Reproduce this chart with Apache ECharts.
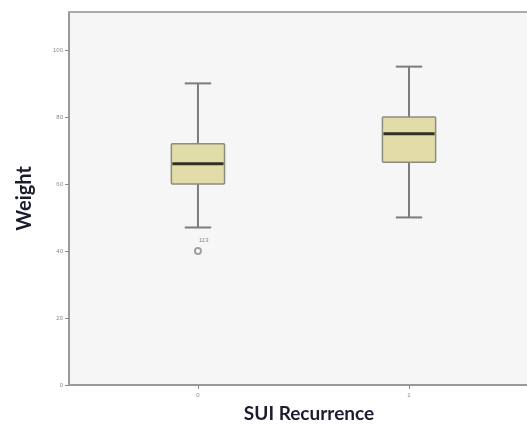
<!DOCTYPE html>
<html>
<head>
<meta charset="utf-8">
<script src="https://cdn.jsdelivr.net/npm/echarts@6/dist/echarts.min.js"></script>
<style>html,body{margin:0;padding:0;background:#fff}#c{width:527px;height:428px}</style>
</head>
<body>
<div id="c"></div>
<script>
const categories = ['0', '1'];
const lowerWhisker = [47, 50];
const q1 = [60, 66.5];
const median = [66, 75];
const q3 = [72, 80];
const upperWhisker = [90, 95];
const outliers = [[0, 40, '113']];
const yTicks = [0, 20, 40, 60, 80, 100];
const xTicks = [0, 1];

const boxData = categories.map((c, i) => [i, lowerWhisker[i], q1[i], median[i], q3[i], upperWhisker[i]]);

const chart = echarts.init(document.getElementById('c'), null, {renderer: 'canvas'});
chart.setOption({
  animation: false,
  backgroundColor: '#ffffff',
  grid: {
    left: 69, right: 0, top: 12, bottom: 43,
    show: true, backgroundColor: '#f6f6f6', borderColor: 'transparent', borderWidth: 0
  },
  xAxis: [{
    type: 'value', min: -0.611, max: 1.559,
    splitLine: {show: false},
    axisLine: {show: true, onZero: false, lineStyle: {color: '#9a9a9a', width: 2}},
    axisTick: {show: true, length: 4, customValues: xTicks, lineStyle: {color: '#8a8a8a'}},
    axisLabel: {customValues: xTicks, fontSize: 6, color: '#8a8a8a', margin: 7,
      formatter: v => categories[Math.round(v)]},
    name: 'SUI Recurrence', nameLocation: 'middle', nameGap: 19,
    nameTextStyle: {fontFamily: 'Lato', fontWeight: 'bold', fontSize: 19, color: '#1c1c30',
      padding: [0, 0, 0, 22]}
  }, {
    type: 'value', position: 'top', min: -0.611, max: 1.559,
    splitLine: {show: false},
    axisLine: {show: true, onZero: false, lineStyle: {color: '#acacac', width: 2}},
    axisTick: {show: false}, axisLabel: {show: false}
  }],
  yAxis: {
    type: 'value', min: 0, max: 111.3,
    splitLine: {show: false},
    axisLine: {show: true, onZero: false, lineStyle: {color: '#9a9a9a', width: 2}},
    axisTick: {show: true, length: 4, customValues: yTicks, lineStyle: {color: '#8a8a8a'}},
    axisLabel: {customValues: yTicks, fontSize: 6, color: '#8a8a8a', margin: 6},
    name: 'Weight', nameLocation: 'middle', nameGap: 34, nameRotate: 90,
    nameTextStyle: {fontFamily: 'Lato', fontWeight: 'bold', fontSize: 20, color: '#1c1c30'}
  },
  series: [
    {
      type: 'custom',
      data: boxData,
      encode: {x: 0, y: [1, 2, 3, 4, 5]},
      renderItem: function (params, api) {
        const x = api.value(0);
        const pLo = api.coord([x, api.value(1)]);
        const pQ1 = api.coord([x, api.value(2)]);
        const pMed = api.coord([x, api.value(3)]);
        const pQ3 = api.coord([x, api.value(4)]);
        const pHi = api.coord([x, api.value(5)]);
        const boxW = api.size([0.252, 0])[0];
        const capW = api.size([0.125, 0])[0];
        const cx = pLo[0];
        const wStyle = {stroke: '#7c7c7c', lineWidth: 2};
        return {
          type: 'group',
          children: [
            {type: 'line', shape: {x1: cx, y1: pLo[1], x2: cx, y2: pHi[1]}, style: wStyle},
            {type: 'line', shape: {x1: cx - capW / 2, y1: pLo[1], x2: cx + capW / 2, y2: pLo[1]}, style: wStyle},
            {type: 'line', shape: {x1: cx - capW / 2, y1: pHi[1], x2: cx + capW / 2, y2: pHi[1]}, style: wStyle},
            {type: 'rect', shape: {x: cx - boxW / 2, y: pQ3[1], width: boxW, height: pQ1[1] - pQ3[1], r: 1},
              style: {fill: '#e2dda8', stroke: '#8c8c80', lineWidth: 1.5}},
            {type: 'line', shape: {x1: cx - boxW / 2 + 1, y1: pMed[1], x2: cx + boxW / 2 - 1, y2: pMed[1]},
              style: {stroke: '#303024', lineWidth: 3}}
          ]
        };
      }
    },
    {
      type: 'scatter',
      data: outliers,
      symbol: 'emptyCircle',
      symbolSize: 6,
      itemStyle: {color: '#8a8a8a', borderWidth: 1.2},
      label: {show: true, position: [5, -10], fontSize: 6, color: '#6a6a6a',
        formatter: p => p.data[2]}
    }
  ]
});
</script>
</body>
</html>
